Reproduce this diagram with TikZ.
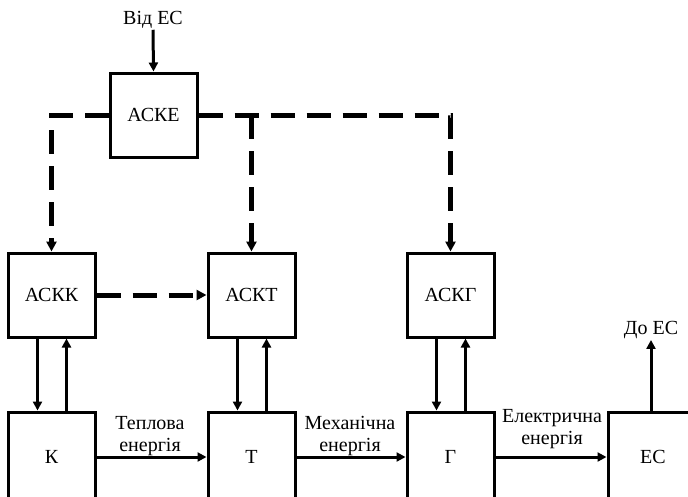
\documentclass[tikz,border=0pt]{standalone}
\usepackage{fontspec}
\setmainfont{Liberation Serif}
\usepackage{tikz}
\usetikzlibrary{shapes.geometric, arrows.meta}
\tikzstyle{block} = [draw, line width=3pt, minimum width=87pt, minimum height=84pt, inner sep=0pt, font=\fontsize{20}{22}\selectfont]
\tikzstyle{caption} = [align=center, inner sep=1pt, font=\fontsize{20}{22}\selectfont]
\tikzstyle{arrow} = [line width=3pt, -{Triangle[length=9pt,width=9pt]}]
\tikzstyle{dasharrow} = [line width=5pt, dash pattern=on 24pt off 12pt, -{Triangle[length=10pt,width=10pt]}]

\begin{document}
\begin{tikzpicture}[x=1pt,y=-1pt]
	% Frame of the picture (the lower boxes run past its edges)
	\useasboundingbox (0,0) rectangle (688,496);
	\clip (0,0) rectangle (688,496);
	
	% Control systems:
	\node[block] (acke) at (153.5,115) {АСКЕ};
	\node[block] (ackk) at (51.5,295) {АСКК};
	\node[block] (ackt) at (251.5,295) {АСКТ};
	\node[block] (ackg) at (450.5,295) {АСКГ};
	
	% Energy chain:
	\node[block, minimum height=90pt] (k) at (51.5,457) {К};
	\node[block, minimum height=90pt] (t) at (251.5,457) {Т};
	\node[block, minimum height=90pt] (g) at (450.5,457) {Г};
	\node[block, minimum width=90pt, minimum height=90pt] (ec) at (653,457) {ЕС};
	
	% Outer links:
	\node[caption] (fromes) at (153,20) {Від ЕС};
	\node[caption] (toes) at (651,330) {До ЕС};
	\draw[arrow] (fromes.south) -- (acke.north);
	\draw[arrow] (ec.north -| toes.south) -- (toes.south);
	
	% Energy flows with their labels:
	\node[caption] (heat) at (150,436) {Теплова\\енергія};
	\node[caption] (mech) at (350,436) {Механічна\\енергія};
	\node[caption] (elec) at (552,429) {Електрична\\енергія};
	\draw[arrow] (k) -- (t);
	\draw[arrow] (t) -- (g);
	\draw[arrow] (g) -- (ec);
	
	% Control and feedback between each system and its unit:
	\foreach \sys/\unit in {ackk/k, ackt/t, ackg/g}
	{
		\draw[arrow] ([xshift=-14pt]\sys.south) -- ([xshift=-14pt]\unit.north);
		\draw[arrow] ([xshift=15pt]\unit.north) -- ([xshift=15pt]\sys.south);
	}
	
	% Dashed information links:
	\draw[dasharrow] (acke.west) -| (ackk.north);
	\draw[dasharrow] (acke.east) -| (ackg.north);
	\draw[dasharrow] (acke.east -| ackt.north) -- (ackt.north);
	\draw[dasharrow] (ackk) -- (ackt);
	
\end{tikzpicture}
\end{document}
